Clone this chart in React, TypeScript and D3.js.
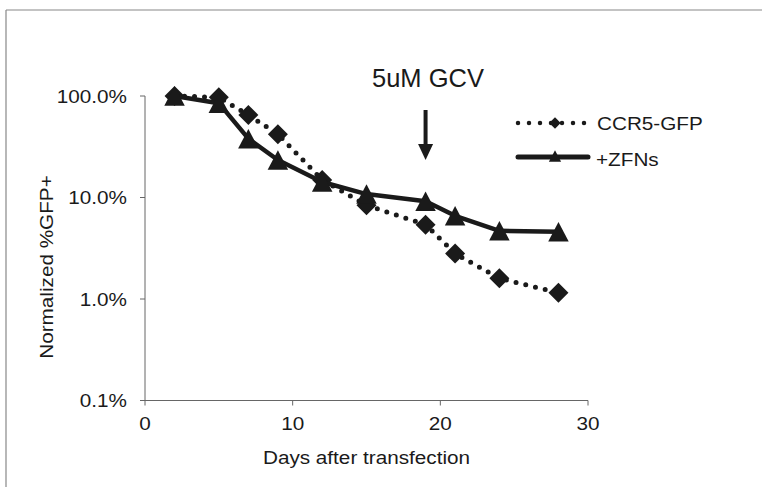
import React from "react";
import * as d3 from "d3";

const days = [2, 5, 7, 9, 12, 15, 19, 21, 24, 28];
const ccr5Gfp = [100, 97, 65, 42, 14.9, 8.4, 5.4, 2.8, 1.6, 1.15];
const zfns = [100, 85, 38, 23.4, 14.2, 10.8, 9.2, 6.6, 4.7, 4.6];
const xTicks = [0, 10, 20, 30];
const yTicks = [0.1, 1, 10, 100];
const yTickLabels = ["0.1%", "1.0%", "10.0%", "100.0%"];
const seriesNames = ["CCR5-GFP", "+ZFNs"];
const gcvDay = 19;
const gcvLabel = "5uM GCV";

const W = 762;
const H = 487;
const FONT = "'Liberation Sans', Arial, Helvetica, sans-serif";
const FS = 18.5;
const SX = 1.12;
const INK = "#1a1a1a";

const x = d3.scaleLinear().domain([0, 30]).range([145, 588]);
const y = d3.scaleLog().domain([0.1, 100]).range([400.5, 96]);

const diamondType = {
  draw(ctx: any, size: number) {
    const r = Math.sqrt(size) / 2;
    ctx.moveTo(0, -r);
    ctx.lineTo(r, 0);
    ctx.lineTo(0, r);
    ctx.lineTo(-r, 0);
    ctx.closePath();
  },
};
const triangleType = {
  draw(ctx: any, size: number) {
    const w = Math.sqrt(size);
    const h = w * 0.95;
    ctx.moveTo(0, -h / 2);
    ctx.lineTo(w / 2, h / 2);
    ctx.lineTo(-w / 2, h / 2);
    ctx.closePath();
  },
};

function SText(props: any) {
  const { x: tx, y: ty, anchor = "start", size = FS, rotate = 0, sx = SX, children } = props;
  return (
    <text
      transform={`translate(${tx},${ty}) rotate(${rotate}) scale(${sx},1)`}
      textAnchor={anchor}
      fontSize={size}
      fontFamily={FONT}
      fill={INK}
    >
      {children}
    </text>
  );
}

export default function App() {
  const line = d3
    .line<number>()
    .x((_, i) => x(days[i]))
    .y((d) => y(d));
  const diamond = d3.symbol().type(diamondType as any).size(400)();
  const triangle = d3.symbol().type(triangleType as any).size(420)();
  const diamondSm = d3.symbol().type(diamondType as any).size(130)();
  const triangleSm = d3.symbol().type(triangleType as any).size(150)();

  const [x0, x1] = x.range();
  const [yb, yt] = y.range();

  const legX0 = 518;
  const legX1 = 588;
  const legMid = 555;
  const legY = [123, 157];

  const arrowX = x(gcvDay);

  return (
    <svg
      width={W}
      height={H}
      style={{ position: "absolute", left: 0, top: 0, background: "#fff" }}
    >
      <rect x={0} y={0} width={W} height={H} fill="#fff" />
      {/* outer frame */}
      <line x1={6} y1={10} x2={W} y2={10} stroke="#888" strokeWidth={1.2} />
      <line x1={6} y1={10} x2={6} y2={H} stroke="#888" strokeWidth={1.2} />

      {/* y axis */}
      <line x1={x0} y1={yt} x2={x0} y2={yb} stroke="#666" strokeWidth={1} />
      {yTicks.map((t, i) => (
        <g key={t}>
          <line x1={x0 - 5} x2={x0} y1={y(t)} y2={y(t)} stroke="#666" />
          <SText x={127} y={y(t) + 6.5} anchor="end">
            {yTickLabels[i]}
          </SText>
        </g>
      ))}
      {/* x axis */}
      <line x1={x0} y1={yb} x2={x1} y2={yb} stroke="#666" strokeWidth={1} />
      {xTicks.map((t) => (
        <g key={t}>
          <line x1={x(t)} x2={x(t)} y1={yb} y2={yb + 5} stroke="#666" />
          <SText x={x(t)} y={430} anchor="middle">
            {String(t)}
          </SText>
        </g>
      ))}
      <SText x={(x0 + x1) / 2} y={464} anchor="middle">
        Days after transfection
      </SText>
      <SText x={53} y={267} anchor="middle" rotate={-90}>
        Normalized %GFP+
      </SText>

      {/* CCR5-GFP dotted */}
      <path
        d={line(ccr5Gfp) || ""}
        fill="none"
        stroke={INK}
        strokeWidth={5}
        strokeLinecap="round"
        strokeDasharray="0 10"
      />
      {ccr5Gfp.map((v, i) => (
        <path key={"d" + i} d={diamond || ""} transform={`translate(${x(days[i])},${y(v)})`} fill={INK} />
      ))}

      {/* +ZFNs solid */}
      <path d={line(zfns) || ""} fill="none" stroke={INK} strokeWidth={4.5} strokeLinejoin="round" />
      {zfns.map((v, i) => (
        <path key={"t" + i} d={triangle || ""} transform={`translate(${x(days[i])},${y(v)})`} fill={INK} />
      ))}

      {/* GCV annotation */}
      <text x={372} y={87} fontSize={25.5} fontFamily={FONT} fill={INK}>
        {gcvLabel}
      </text>
      <line x1={arrowX} x2={arrowX} y1={110} y2={147} stroke={INK} strokeWidth={4} />
      <path
        d={`M${arrowX - 7.5},144 L${arrowX + 7.5},144 L${arrowX},160 Z`}
        fill={INK}
      />

      {/* legend */}
      <line
        x1={legX0}
        x2={legX1}
        y1={legY[0]}
        y2={legY[0]}
        stroke={INK}
        strokeWidth={4.5}
        strokeLinecap="round"
        strokeDasharray="0 11"
      />
      <path d={diamondSm || ""} transform={`translate(${legMid},${legY[0]})`} fill={INK} />
      <SText x={597} y={legY[0] + 7}>
        {seriesNames[0]}
      </SText>
      <line x1={legX0} x2={legX1} y1={legY[1]} y2={legY[1]} stroke={INK} strokeWidth={5} strokeLinecap="round" />
      <path d={triangleSm || ""} transform={`translate(${legMid},${legY[1] - 1})`} fill={INK} />
      <SText x={596} y={legY[1] + 9}>
        {seriesNames[1]}
      </SText>
    </svg>
  );
}
